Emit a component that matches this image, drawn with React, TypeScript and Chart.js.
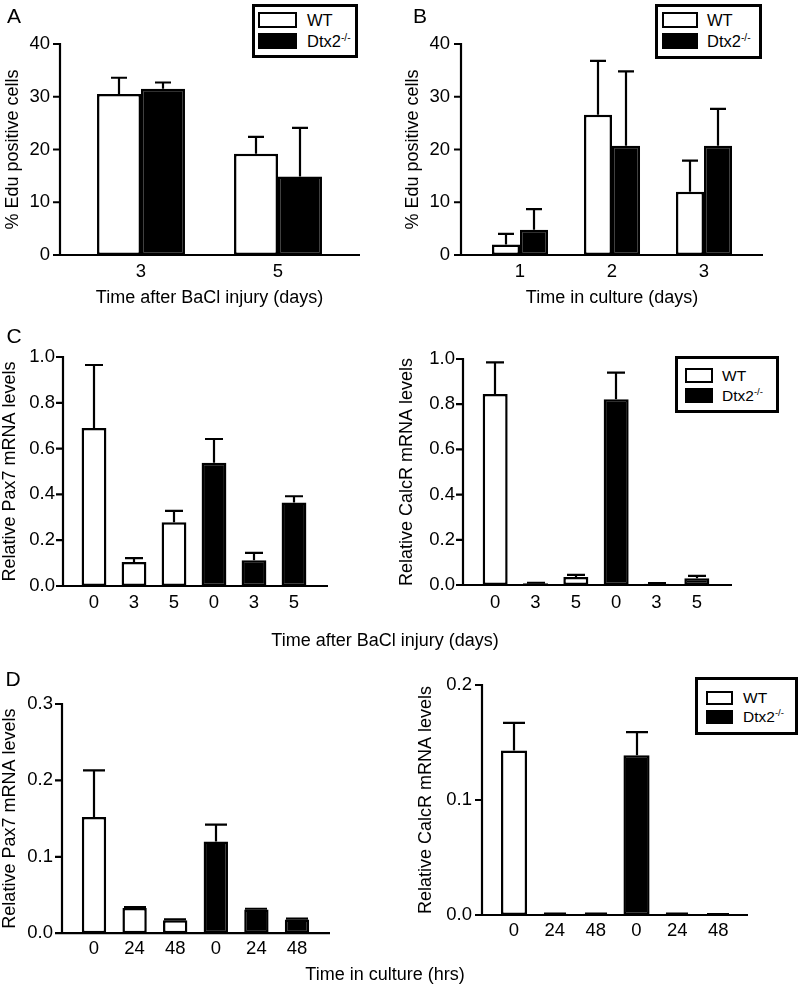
import React, { useEffect, useRef } from "react";
import { Chart, registerables } from "chart.js";

Chart.register(...registerables);

// ---------------- DATA ----------------
// Panel A: % Edu positive cells after BaCl injury
const injuryDayLabels = ["3", "5"];
const eduInjuryWT = [30.5, 19.2];
const eduInjuryWTSem = [3.1, 3.2];
const eduInjuryDtx2 = [31.5, 14.9];
const eduInjuryDtx2Sem = [1.2, 9.2];

// Panel B: % Edu positive cells in culture
const cultureDayLabels = ["1", "2", "3"];
const eduCultureWT = [2.0, 26.6, 12.0];
const eduCultureWTSem = [2.0, 10.2, 5.9];
const eduCultureDtx2 = [4.8, 20.7, 20.7];
const eduCultureDtx2Sem = [3.9, 14.1, 7.0];

// Panel C: relative mRNA after injury (WT 0/3/5, Dtx2 0/3/5)
const injuryTimeLabels = ["0", "3", "5", "0", "3", "5"];
const pax7InjuryWT = [0.69, 0.105, 0.278];
const pax7InjuryWTSem = [0.275, 0.017, 0.05];
const pax7InjuryDtx2 = [0.538, 0.112, 0.365];
const pax7InjuryDtx2Sem = [0.104, 0.033, 0.027];
const calcrInjuryWT = [0.845, 0.008, 0.035];
const calcrInjuryWTSem = [0.14, 0.002, 0.01];
const calcrInjuryDtx2 = [0.822, 0.006, 0.03];
const calcrInjuryDtx2Sem = [0.118, 0.002, 0.01];

// Panel D: relative mRNA in culture (hrs)
const cultureHourLabels = ["0", "24", "48", "0", "24", "48"];
const pax7CultureWT = [0.152, 0.033, 0.017];
const pax7CultureWTSem = [0.061, 0.001, 0.001];
const pax7CultureDtx2 = [0.12, 0.031, 0.018];
const pax7CultureDtx2Sem = [0.022, 0.001, 0.001];
const calcrCultureWT = [0.143, 0.001, 0.001];
const calcrCultureWTSem = [0.024, 0.0003, 0.0003];
const calcrCultureDtx2 = [0.139, 0.001, 0.0005];
const calcrCultureDtx2Sem = [0.02, 0.0003, 0.0002];

const seriesWT = "WT";
const seriesKO = "Dtx2-/-";

// ---------------- helpers ----------------
const FONT = "'Liberation Sans', Arial, Helvetica, sans-serif";
const WHITE = "#ffffff";
const BLACK = "#000000";

type Box = { left: number; top: number; width: number; height: number };
type Plot = { left: number; right: number; top: number; bottom: number };
type DS = { label: string; data: (number | null)[]; errors: (number | null)[]; fill: string };

type PanelSpec = {
  box: Box;
  plot: Plot;
  axisX: number;
  axisEnd: number;
  yMax: number;
  yStep: number;
  yDecimals: number;
  yLabelRight: number;
  yTitle: string;
  yTitleX: number;
  xTitle?: string;
  xTitleY?: number;
  xTickY: number;
  cap: number;
  catPct: number;
  barPct: number;
  labels: string[];
  datasets: DS[];
};

const padLeft = (a: number[]): (number | null)[] => [...a, ...a.map(() => null)];
const padRight = (a: number[]): (number | null)[] => [...a.map(() => null), ...a];

function groupedSets(wt: number[], wtE: number[], ko: number[], koE: number[]): DS[] {
  return [
    { label: seriesWT, data: wt, errors: wtE, fill: WHITE },
    { label: seriesKO, data: ko, errors: koE, fill: BLACK },
  ];
}
function splitSets(wt: number[], wtE: number[], ko: number[], koE: number[]): DS[] {
  return [
    { label: seriesWT, data: padLeft(wt), errors: padLeft(wtE), fill: WHITE },
    { label: seriesKO, data: padRight(ko), errors: padRight(koE), fill: BLACK },
  ];
}

const TICK_FONT = 18.5;
const TITLE_FONT = 18;

const errorBarPlugin = {
  id: "errorBars",
  afterDatasetsDraw(chart: any, _args: any, opts: any) {
    const ctx = chart.ctx;
    const y = chart.scales.y;
    ctx.save();
    ctx.strokeStyle = BLACK;
    ctx.lineWidth = 2.2;
    chart.data.datasets.forEach((ds: any, i: number) => {
      const meta = chart.getDatasetMeta(i);
      meta.data.forEach((el: any, j: number) => {
        const v = ds.data[j];
        const e = ds.errors[j];
        if (v == null || e == null) return;
        const top = y.getPixelForValue(v + e);
        const x = Math.round(el.x);
        ctx.beginPath();
        ctx.moveTo(x, el.y);
        ctx.lineTo(x, top);
        ctx.moveTo(x - opts.cap / 2, top);
        ctx.lineTo(x + opts.cap / 2, top);
        ctx.stroke();
      });
    });
    ctx.restore();
  },
};

const axesPlugin = {
  id: "prismAxes",
  afterDraw(chart: any, _args: any, opts: any) {
    const ctx = chart.ctx;
    const y = chart.scales.y;
    const y0 = y.getPixelForValue(0);
    const yTop = y.getPixelForValue(y.max);
    const ax = opts.axisX;
    ctx.save();
    ctx.strokeStyle = BLACK;
    ctx.lineWidth = 2.2;
    ctx.beginPath();
    ctx.moveTo(ax, yTop - 1);
    ctx.lineTo(ax, y0 + 1);
    y.ticks.forEach((t: any) => {
      const py = y.getPixelForValue(t.value);
      ctx.moveTo(ax - 7, py);
      ctx.lineTo(ax + 1, py);
    });
    ctx.moveTo(ax - 1, y0);
    ctx.lineTo(opts.axisEnd, y0);
    ctx.stroke();
    ctx.restore();
  },
};

function BarPanel({ spec }: { spec: PanelSpec }) {
  const ref = useRef<HTMLCanvasElement | null>(null);
  useEffect(() => {
    const { box, plot } = spec;
    const lh = TITLE_FONT * 1.2;
    const chart = new Chart(ref.current as HTMLCanvasElement, {
      type: "bar",
      data: {
        labels: spec.labels,
        datasets: spec.datasets.map((d) => ({
          label: d.label,
          data: d.data,
          errors: d.errors,
          backgroundColor: d.fill,
          borderColor: BLACK,
          borderWidth: 2.5,
          borderSkipped: false,
          skipNull: true,
          categoryPercentage: spec.catPct,
          barPercentage: spec.barPct,
        })) as any,
      },
      options: {
        responsive: false,
        maintainAspectRatio: false,
        animation: false,
        devicePixelRatio: 1,
        layout: {
          padding: {
            left: 0,
            top: plot.top - box.top,
            right: box.left + box.width - plot.right,
            bottom: 0,
          },
        },
        plugins: {
          legend: { display: false },
          tooltip: { enabled: false },
          errorBars: { cap: spec.cap },
          prismAxes: { axisX: spec.axisX - box.left, axisEnd: spec.axisEnd - box.left },
        } as any,
        scales: {
          x: {
            type: "category",
            offset: true,
            grid: { display: false, drawTicks: false },
            border: { display: false },
            ticks: {
              color: BLACK,
              font: { family: FONT, size: TICK_FONT },
              padding: spec.xTickY - plot.bottom - (TICK_FONT * 1.2) / 2,
              autoSkip: false,
              maxRotation: 0,
              minRotation: 0,
            },
            title: spec.xTitle
              ? {
                  display: true,
                  text: spec.xTitle,
                  color: BLACK,
                  font: { family: FONT, size: TITLE_FONT },
                  padding: { top: 0, bottom: box.top + box.height - (spec.xTitleY as number) - lh / 2 },
                }
              : { display: false },
            afterFit: (s: any) => {
              s.height = box.top + box.height - plot.bottom;
            },
          },
          y: {
            type: "linear",
            min: 0,
            max: spec.yMax,
            grid: { display: false, drawTicks: false },
            border: { display: false },
            ticks: {
              stepSize: spec.yStep,
              color: BLACK,
              font: { family: FONT, size: TICK_FONT },
              padding: plot.left - spec.yLabelRight,
              callback: (v: any) => Number(v).toFixed(spec.yDecimals),
            },
            title: {
              display: true,
              text: spec.yTitle,
              color: BLACK,
              font: { family: FONT, size: TITLE_FONT },
              padding: { top: spec.yTitleX - box.left - lh / 2, bottom: 0 },
            },
            afterFit: (s: any) => {
              s.width = plot.left - box.left;
            },
          },
        } as any,
      },
      plugins: [errorBarPlugin, axesPlugin] as any,
    } as any);
    return () => chart.destroy();
  }, []);
  const { box } = spec;
  return (
    <canvas
      ref={ref}
      width={box.width}
      height={box.height}
      style={{ position: "absolute", left: box.left, top: box.top, width: box.width, height: box.height }}
    />
  );
}

type LegendSpec = {
  left: number;
  top: number;
  width: number;
  height: number;
  swatchLeft: number;
  swatchW: number;
  swatchH: number;
  rows: number[];
  textLeft: number;
  fontSize: number;
};

function Legend({ s }: { s: LegendSpec }) {
  const names = [seriesWT, seriesKO];
  const fills = [WHITE, BLACK];
  return (
    <>
      <div
        style={{
          position: "absolute",
          left: s.left,
          top: s.top,
          width: s.width,
          height: s.height,
          border: "3px solid #000",
          boxSizing: "border-box",
          background: WHITE,
        }}
      />
      {names.map((n, i) => (
        <React.Fragment key={n}>
          <div
            style={{
              position: "absolute",
              left: s.swatchLeft,
              top: s.rows[i],
              width: s.swatchW,
              height: s.swatchH,
              border: "2.5px solid #000",
              boxSizing: "border-box",
              background: fills[i],
            }}
          />
          <div
            style={{
              position: "absolute",
              left: s.textLeft,
              top: s.rows[i] + s.swatchH / 2,
              transform: "translateY(-50%)",
              fontFamily: FONT,
              fontSize: s.fontSize,
              lineHeight: 1,
              whiteSpace: "nowrap",
              color: BLACK,
            }}
          >
            {n === seriesKO ? (
              <>
                Dtx2
                <span style={{ fontSize: s.fontSize * 0.62, position: "relative", top: -s.fontSize * 0.38 }}>-/-</span>
              </>
            ) : (
              n
            )}
          </div>
        </React.Fragment>
      ))}
    </>
  );
}

function Label({ text, x, y, size }: { text: string; x: number; y: number; size: number }) {
  return (
    <div
      style={{
        position: "absolute",
        left: x,
        top: y,
        transform: "translate(-50%, -50%)",
        fontFamily: FONT,
        fontSize: size,
        lineHeight: 1,
        whiteSpace: "nowrap",
        color: BLACK,
      }}
    >
      {text}
    </div>
  );
}

// ---------------- panels ----------------
const panels: PanelSpec[] = [
  {
    box: { left: 0, top: 0, width: 390, height: 320 },
    plot: { left: 72.5, right: 346.5, top: 44, bottom: 255 },
    axisX: 60,
    axisEnd: 360,
    yMax: 40,
    yStep: 10,
    yDecimals: 0,
    yLabelRight: 50,
    yTitle: "% Edu positive cells",
    yTitleX: 13,
    xTitle: "Time after BaCl injury (days)",
    xTitleY: 298,
    xTickY: 272,
    cap: 16,
    catPct: 0.642,
    barPct: 1,
    labels: injuryDayLabels,
    datasets: groupedSets(eduInjuryWT, eduInjuryWTSem, eduInjuryDtx2, eduInjuryDtx2Sem),
  },
  {
    box: { left: 400, top: 0, width: 400, height: 320 },
    plot: { left: 474, right: 750, top: 44, bottom: 255 },
    axisX: 461,
    axisEnd: 763,
    yMax: 40,
    yStep: 10,
    yDecimals: 0,
    yLabelRight: 450,
    yTitle: "% Edu positive cells",
    yTitleX: 413,
    xTitle: "Time in culture (days)",
    xTitleY: 298,
    xTickY: 272,
    cap: 16,
    catPct: 0.61,
    barPct: 1,
    labels: cultureDayLabels,
    datasets: groupedSets(eduCultureWT, eduCultureWTSem, eduCultureDtx2, eduCultureDtx2Sem),
  },
  {
    box: { left: 0, top: 320, width: 390, height: 300 },
    plot: { left: 74, right: 314, top: 357, bottom: 586 },
    axisX: 63,
    axisEnd: 328,
    yMax: 1,
    yStep: 0.2,
    yDecimals: 1,
    yLabelRight: 55,
    yTitle: "Relative Pax7 mRNA levels",
    yTitleX: 10,
    xTickY: 603,
    cap: 18,
    catPct: 1,
    barPct: 0.62,
    labels: injuryTimeLabels,
    datasets: splitSets(pax7InjuryWT, pax7InjuryWTSem, pax7InjuryDtx2, pax7InjuryDtx2Sem),
  },
  {
    box: { left: 390, top: 320, width: 410, height: 300 },
    plot: { left: 475, right: 717, top: 359, bottom: 585 },
    axisX: 463,
    axisEnd: 732,
    yMax: 1,
    yStep: 0.2,
    yDecimals: 1,
    yLabelRight: 455,
    yTitle: "Relative CalcR mRNA levels",
    yTitleX: 407,
    xTickY: 603,
    cap: 18,
    catPct: 1,
    barPct: 0.62,
    labels: injuryTimeLabels,
    datasets: splitSets(calcrInjuryWT, calcrInjuryWTSem, calcrInjuryDtx2, calcrInjuryDtx2Sem),
  },
  {
    box: { left: 0, top: 620, width: 390, height: 345 },
    plot: { left: 73.7, right: 317.3, top: 704, bottom: 934 },
    axisX: 62,
    axisEnd: 330,
    yMax: 0.3,
    yStep: 0.1,
    yDecimals: 1,
    yLabelRight: 53,
    yTitle: "Relative Pax7 mRNA levels",
    yTitleX: 10,
    xTickY: 950,
    cap: 22,
    catPct: 1,
    barPct: 0.6,
    labels: cultureHourLabels,
    datasets: splitSets(pax7CultureWT, pax7CultureWTSem, pax7CultureDtx2, pax7CultureDtx2Sem),
  },
  {
    box: { left: 390, top: 620, width: 410, height: 345 },
    plot: { left: 493.6, right: 738.6, top: 685, bottom: 915 },
    axisX: 482,
    axisEnd: 748,
    yMax: 0.2,
    yStep: 0.1,
    yDecimals: 1,
    yLabelRight: 472,
    yTitle: "Relative CalcR mRNA levels",
    yTitleX: 426,
    xTickY: 931,
    cap: 22,
    catPct: 1,
    barPct: 0.64,
    labels: cultureHourLabels,
    datasets: splitSets(calcrCultureWT, calcrCultureWTSem, calcrCultureDtx2, calcrCultureDtx2Sem),
  },
];

const legends: LegendSpec[] = [
  { left: 252, top: 4, width: 106, height: 54, swatchLeft: 258, swatchW: 39, swatchH: 16, rows: [12, 33], textLeft: 307, fontSize: 16.5 },
  { left: 655, top: 4, width: 107, height: 55, swatchLeft: 662, swatchW: 36, swatchH: 16, rows: [12, 33], textLeft: 707, fontSize: 16.5 },
  { left: 675, top: 356, width: 104, height: 57, swatchLeft: 685, swatchW: 28, swatchH: 15, rows: [368, 388], textLeft: 722, fontSize: 15.5 },
  { left: 695, top: 677, width: 103, height: 58, swatchLeft: 706, swatchW: 27, swatchH: 14, rows: [691, 710], textLeft: 743, fontSize: 15.5 },
];

export default function App() {
  return (
    <div
      style={{
        position: "absolute",
        left: 0,
        top: 0,
        width: 800,
        height: 987,
        background: WHITE,
        overflow: "hidden",
      }}
    >
      {panels.map((p, i) => (
        <BarPanel key={i} spec={p} />
      ))}
      {legends.map((l, i) => (
        <Legend key={i} s={l} />
      ))}
      <Label text="A" x={14} y={15} size={21} />
      <Label text="B" x={420} y={15} size={21} />
      <Label text="C" x={14} y={335} size={21} />
      <Label text="D" x={13} y={678} size={21} />
      <Label text="Time after BaCl injury (days)" x={385} y={640} size={TITLE_FONT} />
      <Label text="Time in culture (hrs)" x={385} y={974} size={TITLE_FONT} />
    </div>
  );
}
